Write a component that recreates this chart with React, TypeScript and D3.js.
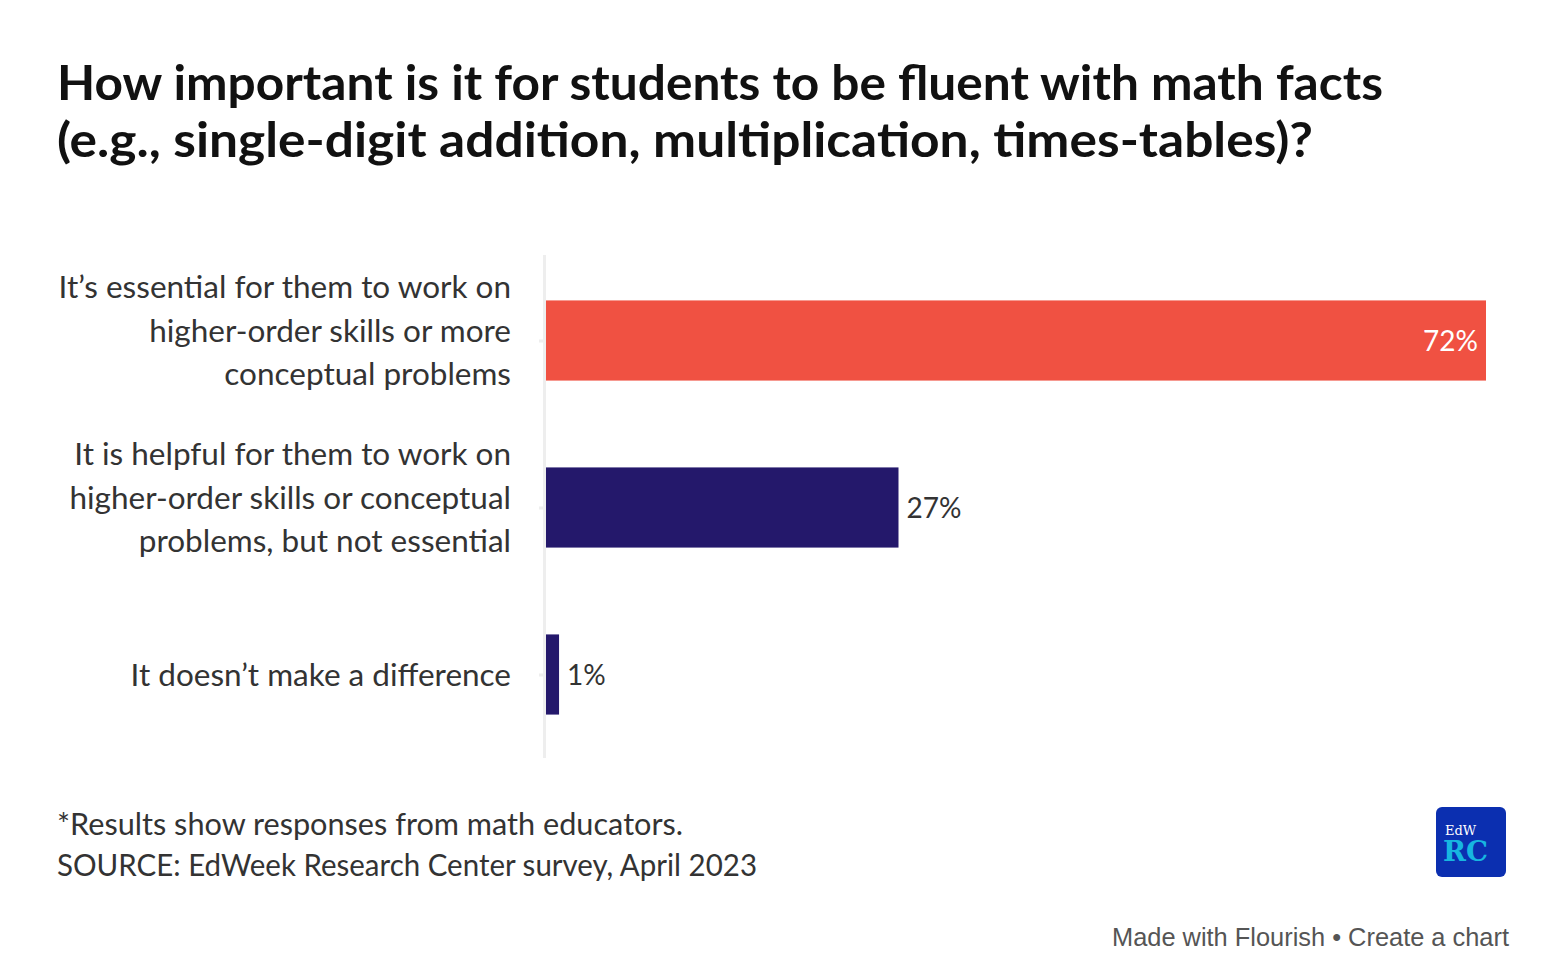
import React from "react";
import * as d3 from "d3";

const categories = [
  ["It’s essential for them to work on", "higher-order skills or more", "conceptual problems"],
  ["It is helpful for them to work on", "higher-order skills or conceptual", "problems, but not essential"],
  ["It doesn’t make a difference"],
];
const values = [72, 27, 1];
const colors = ["#f05142", "#24186b", "#24186b"];
const titleLines = [
  "How important is it for students to be fluent with math facts",
  "(e.g., single-digit addition, multiplication, times-tables)?",
];
const titleWidths = [1326, 1256];
const footnotes = ["*Results show responses from math educators.", "SOURCE: EdWeek Research Center survey, April 2023"];
const footWidths = [626, 700];

export default function App() {
  const W = 1568, H = 978;
  const font = "'Source Sans Pro', Lato, 'Noto Sans', sans-serif";
  const x = d3.scaleLinear().domain([0, d3.max(values) as number]).range([546, 1486]);
  const y = d3.scaleBand<number>().domain(d3.range(values.length)).range([257, 758]).paddingInner(0.52).paddingOuter(0.26);
  const lh = 43.5;
  return (
    <svg width={W} height={H} style={{ position: "absolute", left: 0, top: 0, background: "#fff" }}>
      {titleLines.map((t, i) => (
        <text key={i} x={57} y={100 + i * 57} fontFamily={font} fontWeight={700} fontSize={47} fill="#111" textLength={titleWidths[i]} lengthAdjust="spacingAndGlyphs">{t}</text>
      ))}
      <rect x={543} y={255} width={3} height={503} fill="#eeeeee" />
      {values.map((v, i) => {
        const y0 = y(i) as number;
        const bh = y.bandwidth();
        const cy = y0 + bh / 2;
        const lines = categories[i];
        const inside = v > 50;
        const shift = lines.length > 1 ? -10 : 0;
        return (
          <g key={i}>
            <rect x={539} y={cy - 1} width={4} height={3} fill="#eeeeee" />
            <rect x={x(0)} y={y0} width={x(v) - x(0)} height={bh} fill={colors[i]} />
            {lines.map((l, j) => (
              <text key={j} x={511} y={cy + shift + (j - (lines.length - 1) / 2) * lh + 11} textAnchor="end" fontFamily={font} fontSize={31.5} fill="#333">{l}</text>
            ))}
            <text x={inside ? x(v) - 8 : x(v) + 8} y={cy + 10} textAnchor={inside ? "end" : "start"} fontFamily={font} fontSize={28} fill={inside ? "#fff" : "#333"}>{v}%</text>
          </g>
        );
      })}
      {footnotes.map((t, i) => (
        <text key={i} x={57} y={835 + i * 41} fontFamily={font} fontSize={30} fill="#333" textLength={footWidths[i]} lengthAdjust="spacingAndGlyphs">{t}</text>
      ))}
      <rect x={1436} y={807} width={70} height={70} rx={6} fill="#0b2fb0" />
      <text x={1445} y={835} fontFamily="'DejaVu Serif', serif" fontSize={13} fill="#fff">EdW</text>
      <text x={1443} y={861} fontFamily="'DejaVu Serif', serif" fontWeight={700} fontSize={27} fill="#17b6e0" textLength={45} lengthAdjust="spacingAndGlyphs">RC</text>
      <text x={1509} y={946} textAnchor="end" fontFamily="'Liberation Sans', Arial, sans-serif" fontSize={25} fill="#555" textLength={397} lengthAdjust="spacingAndGlyphs">Made with Flourish • Create a chart</text>
    </svg>
  );
}
